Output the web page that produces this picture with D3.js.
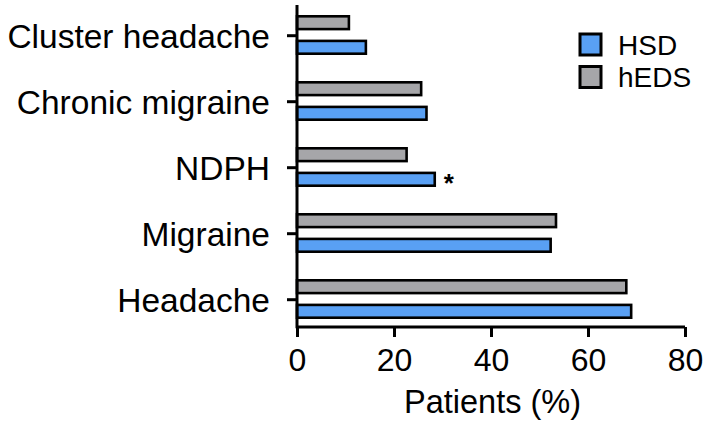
<!DOCTYPE html>
<html><head><meta charset="utf-8">
<script src="https://cdn.jsdelivr.net/npm/d3@7"></script>
<style>
html,body{margin:0;padding:0;background:#fff;}
svg{display:block;font-family:"Liberation Sans",Arial,Helvetica,sans-serif;}
</style></head>
<body><svg id="chart" width="709" height="429"></svg>
<script>
const categories = ["Cluster headache","Chronic migraine","NDPH","Migraine","Headache"];
const seriesNames = ["hEDS","HSD"];
const hEDS = [10.7, 25.6, 22.6, 53.4, 67.9];
const HSD  = [14.2, 26.7, 28.4, 52.3, 68.9];
const xTicks = [0,20,40,60,80];
const legendOrder = ["HSD","hEDS"];
const colors = {HSD:"#59a0f4", hEDS:"#a6a6a9"};
const significant = {category:"NDPH", series:"HSD", mark:"*"};

const svg = d3.select("#chart");
const x = d3.scaleLinear().domain([0,80]).range([297,685]);
const y0 = d3.scaleBand().domain(categories).range([2,332]);
const y1 = d3.scaleBand().domain(seriesNames).range([14.3,51.7]).paddingInner(0.48);
const values = {hEDS, HSD};

const rows = categories.map((c,i)=>({c, vals: seriesNames.map(s=>({s, v: values[s][i]}))}));

const g = svg.selectAll("g.cat").data(rows).join("g").attr("class","cat")
  .attr("transform", d=>`translate(0,${y0(d.c)})`);
g.selectAll("rect").data(d=>d.vals).join("rect")
  .attr("x", x(0))
  .attr("y", d=>y1(d.s))
  .attr("width", d=>x(d.v)-x(0))
  .attr("height", y1.bandwidth())
  .attr("fill", d=>colors[d.s])
  .attr("stroke","#000").attr("stroke-width",2.6);

// significance mark
const si = categories.indexOf(significant.category);
svg.append("text")
  .attr("x", x(values[significant.series][si]) + 14)
  .attr("y", y0(significant.category) + y1(significant.series) + y1.bandwidth()/2 + 13)
  .attr("text-anchor","middle")
  .attr("font-size",26).attr("font-weight","bold")
  .text(significant.mark);

// x axis
const xAxis = d3.axisBottom(x).tickValues(xTicks).tickSize(10).tickSizeOuter(0).tickPadding(11);
const xg = svg.append("g").attr("transform","translate(0,327)").call(xAxis);
xg.select(".domain").attr("stroke","#000").attr("stroke-width",3).attr("d",`M${x(0)},0H${x(80)}`);
xg.selectAll(".tick line").attr("stroke","#000").attr("stroke-width",3);
xg.selectAll(".tick text").attr("font-size",32).attr("fill","#000").attr("font-family","Liberation Sans, Arial, sans-serif");

// y axis
const yAxis = d3.axisLeft(y0.copy().range([2.7,332.7])).tickSize(10).tickSizeOuter(0).tickPadding(17);
const yg = svg.append("g").attr("transform",`translate(${x(0)},0)`).call(yAxis);
yg.select(".domain").attr("stroke","#000").attr("stroke-width",3).attr("d","M0,5V328.2");
yg.selectAll(".tick line").attr("stroke","#000").attr("stroke-width",3);
yg.selectAll(".tick text").attr("font-size",33.5).attr("dy","0.37em").attr("fill","#000").attr("font-family","Liberation Sans, Arial, sans-serif");

// x title
svg.append("text").attr("x",(403+582)/2).attr("y",413).attr("text-anchor","middle")
  .attr("font-size",32.5).text("Patients (%)");

// legend
const lg = svg.append("g").attr("transform","translate(580,34)");
const li = lg.selectAll("g").data(legendOrder).join("g").attr("transform",(d,i)=>`translate(0,${i*32.5})`);
li.append("rect").attr("width",21).attr("height",21).attr("fill",d=>colors[d]).attr("stroke","#000").attr("stroke-width",3);
li.append("text").attr("x",38).attr("y",20.5).attr("font-size",28).text(d=>d);
</script></body></html>
